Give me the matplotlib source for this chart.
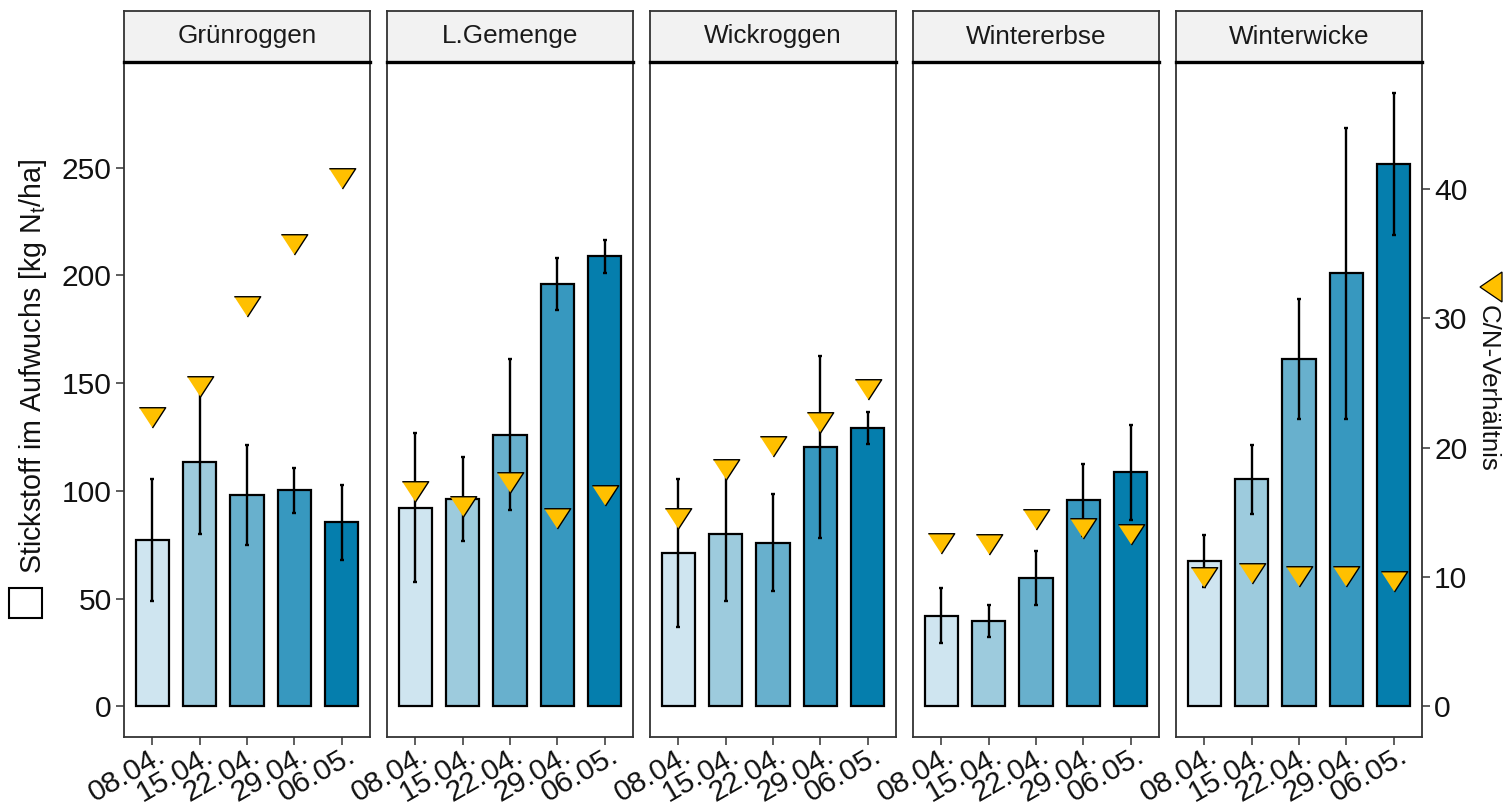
import numpy as np
import matplotlib
matplotlib.use("Agg")
import matplotlib.pyplot as plt
from matplotlib.patches import Rectangle, Polygon
from matplotlib.transforms import ScaledTranslation

plt.rcParams['font.family'] = ['Liberation Sans', 'DejaVu Sans']

# Zwischenfrüchte und Beprobungstermine
crops = ["Grünroggen", "L.Gemenge", "Wickroggen", "Wintererbse", "Winterwicke"]
dates = ["08.04.", "15.04.", "22.04.", "29.04.", "06.05."]

# Stickstoff im Aufwuchs [kg Nt/ha], Mittelwert und Standardabweichung
n_mean = [
    [77.2, 113.4, 97.9, 100.2, 85.4],
    [92.2, 96.1, 126.1, 196.0, 208.8],
    [71.2, 80.1, 76.0, 120.3, 129.1],
    [42.1, 39.6, 59.5, 95.7, 108.6],
    [67.4, 105.3, 161.3, 200.9, 251.8],
]
n_sd = [
    [28.5, 33.2, 23.2, 10.5, 17.5],
    [34.6, 19.5, 35.2, 12.0, 7.8],
    [34.4, 31.1, 22.6, 42.3, 7.5],
    [12.8, 7.2, 12.4, 16.6, 22.0],
    [12.0, 16.2, 27.8, 67.4, 33.0],
]
# C/N-Verhältnis im Aufwuchs
cn_ratio = [
    [22.6, 25.0, 31.2, 36.0, 41.1],
    [16.9, 15.75, 17.6, 14.8, 16.55],
    [14.8, 18.6, 20.4, 22.2, 24.8],
    [12.9, 12.75, 14.7, 14.0, 13.55],
    [10.2, 10.55, 10.3, 10.35, 9.95],
]
cn_scale = 6  # 1 Einheit C/N entspricht 6 kg N/ha auf der linken Achse

bar_colors = ["#cfe5f0", "#9dcbdd", "#68b0cd", "#3798bf", "#057ead"]
tri_color = "#ffc000"

W, H = 1507, 805
fig = plt.figure(figsize=(W / 100, H / 100), dpi=100)


def fx(px):
    return px / W


def fy(py):
    return 1 - py / H


# Dreieck mit Schwerpunkt im Ursprung (wie pch 25)
tri_down = [(-0.65, 1 / 3), (0.65, 1 / 3), (0, -2 / 3)]

mean_arr = np.array(n_mean)
sd_arr = np.array(n_sd)
cn_arr = np.array(cn_ratio)
ytop = max((mean_arr + sd_arr).max(), (cn_arr * cn_scale).max())
ylim = (-0.05 * ytop, 1.05 * ytop)

x = np.arange(len(dates))
panel_top, panel_bot = 62, 737
strip_top = 11
tick_fs = 21.6
# Datumsbeschriftung: rechts oben verankert, knapp unter der Achse
date_offset = ScaledTranslation(0.04, -0.04, fig.dpi_scale_trans)

for i, crop in enumerate(crops):
    left = 124 + i * 263
    ax = fig.add_axes([fx(left), fy(panel_bot), 246 / W, (panel_bot - panel_top) / H])
    ax.bar(x, n_mean[i], width=0.7, color=bar_colors, edgecolor="black", linewidth=1.6, zorder=2)
    ax.errorbar(x, n_mean[i], yerr=n_sd[i], fmt="none", ecolor="black",
                elinewidth=1.7, capsize=1.6, capthick=1.7, zorder=3)
    ax.set_xlim(-0.6, len(dates) - 0.4)
    ax.set_ylim(*ylim)
    ax.set_xticks(x)
    ax.set_xticklabels([])
    for xi, d in zip(x, dates):
        ax.text(xi, 0, d, transform=ax.get_xaxis_transform() + date_offset,
                rotation=30, ha="right", va="top", rotation_mode="anchor",
                fontsize=tick_fs, color="#111111")
    ax.tick_params(axis="both", length=5.8, width=1.1, color="#333333",
                   labelsize=tick_fs, labelcolor="#111111", pad=3)
    if i == 0:
        ax.set_yticks([0, 50, 100, 150, 200, 250])
    else:
        ax.set_yticks([])
    for sp in ax.spines.values():
        sp.set_color("#333333")
        sp.set_linewidth(1.3)

    # C/N-Verhältnis auf eigener Achse
    ax2 = ax.twinx()
    ax2.set_ylim(ylim[0] / cn_scale, ylim[1] / cn_scale)
    ax2.plot(x, cn_ratio[i], linestyle="none", marker=tri_down, markersize=19.5,
             markerfacecolor=tri_color, markeredgecolor="black", markeredgewidth=1.0, zorder=4)
    ax2.set_frame_on(False)
    if i == len(crops) - 1:
        ax2.set_yticks([0, 10, 20, 30, 40])
        ax2.tick_params(axis="y", length=5.8, width=1.1, color="#333333",
                        labelsize=tick_fs, labelcolor="#111111", pad=3)
    else:
        ax2.set_yticks([])

    # Streifen mit Name der Zwischenfrucht
    sax = fig.add_axes([fx(left), fy(panel_top), 246 / W, (panel_top - strip_top) / H])
    sax.set_facecolor("#f2f2f2")
    sax.set_xticks([])
    sax.set_yticks([])
    for sp in sax.spines.values():
        sp.set_color("#333333")
        sp.set_linewidth(1.3)
    sax.spines["bottom"].set_color("black")
    sax.spines["bottom"].set_linewidth(2.4)
    sax.text(0.5, 0.5, crop, ha="center", va="center", fontsize=18.8,
             color="#1a1a1a", transform=sax.transAxes)

# Achsentitel mit Legendensymbolen
fig.text(fx(33), fy(574), "Stickstoff im Aufwuchs [kg $\\mathregular{N_t}$/ha]",
         rotation=90, ha="center", va="bottom", fontsize=20.6, color="#111111")
fig.add_artist(Rectangle((fx(9), fy(618)), 33 / W, 30 / H, transform=fig.transFigure,
                         facecolor="white", edgecolor="black", linewidth=1.5))

fig.text(fx(1488), fy(305), "C/N-Verhältnis", rotation=-90, ha="center", va="top",
         fontsize=18.6, color="#111111")
fig.add_artist(Polygon([(fx(1480), fy(287)), (fx(1502), fy(272)), (fx(1502), fy(302))],
                       closed=True, transform=fig.transFigure,
                       facecolor=tri_color, edgecolor="black", linewidth=0.9))

fig.savefig("out.png", dpi=100)
